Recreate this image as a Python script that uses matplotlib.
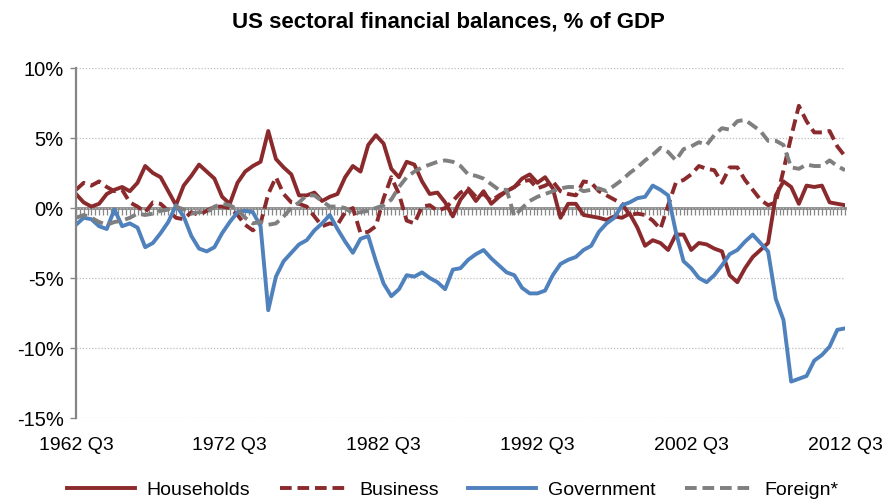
import matplotlib
matplotlib.use("Agg")
import matplotlib.pyplot as plt
import numpy as np
from matplotlib.ticker import FuncFormatter, NullFormatter

plt.rcParams['font.family'] = ['Liberation Sans', 'DejaVu Sans']

# quarter index counted from 1962 Q3, sampled every second quarter
quarters = np.arange(0, 201, 2)

households = [1.0, 0.4, 0.1, 0.3, 1.0, 1.3, 1.5, 1.2, 1.8, 3.0,
              2.5, 2.2, 1.2, 0.2, 1.6, 2.3, 3.1, 2.6, 2.1, 0.8,
              0.3, 1.8, 2.6, 3.0, 3.3, 5.5, 3.5, 2.9, 2.4, 0.9,
              0.9, 1.1, 0.5, 0.8, 1.0, 2.2, 3.0, 2.6, 4.5, 5.2,
              4.6, 2.8, 2.2, 3.3, 3.1, 1.9, 1.0, 1.1, 0.4, -0.6,
              0.6, 1.3, 0.5, 1.2, 0.3, 0.8, 1.2, 1.5, 2.1, 2.4,
              1.8, 2.2, 1.4, -0.7, 0.3, 0.3, -0.5, -0.6, -0.7, -0.85,
              -0.6, -0.7, -0.4, -1.4, -2.7, -2.3, -2.5, -3.0, -1.9, -1.9,
              -3.0, -2.5, -2.6, -2.9, -3.1, -4.8, -5.3, -4.3, -3.5, -3.0,
              -2.5, 0.9, 1.9, 1.5, 0.3, 1.6, 1.5, 1.6, 0.4, 0.3,
              0.2]

business = [1.3, 1.8, 1.6, 1.9, 1.5, 1.2, 1.3, 0.4, 0.1, -0.3,
            0.4, 0.3, -0.2, -0.7, -0.8, -0.3, -0.5, -0.2, 0.1, 0.1,
            0.0, -0.5, -1.2, -1.6, -1.1, 1.0, 2.2, 1.0, 0.4, 0.3,
            0.1, -0.6, -1.3, -1.1, -1.2, -0.3, 0.0, -1.8, -1.7, -1.3,
            0.7, 2.2, 1.0, -0.9, -1.1, 0.1, 0.2, -0.2, 0.0, 0.5,
            1.1, 1.4, 0.8, 1.0, 0.5, 0.9, 1.2, 1.5, 1.9, 2.0,
            1.4, 1.6, 1.9, 1.2, 1.0, 0.9, 1.9, 1.8, 1.2, 0.9,
            0.6, 0.3, -0.5, -0.4, -0.5, -0.9, -1.5, 0.2, 1.8, 2.0,
            2.4, 3.0, 2.8, 2.7, 1.8, 2.9, 2.9, 2.0, 1.3, 0.6,
            0.2, 0.4, 2.7, 5.1, 7.3, 6.2, 5.4, 5.4, 5.5, 4.4,
            3.7]

government = [-1.2, -0.7, -0.8, -1.3, -1.5, -0.1, -1.3, -1.1, -1.4, -2.8,
              -2.5, -1.8, -1.0, 0.2, -0.6, -2.0, -2.9, -3.1, -2.8, -1.8,
              -1.0, -0.3, -0.2, -0.3, -1.3, -7.3, -4.9, -3.8, -3.2, -2.6,
              -2.3, -1.6, -1.1, -0.5, -1.5, -2.4, -3.2, -2.2, -2.0, -3.8,
              -5.4, -6.3, -5.8, -4.8, -4.9, -4.6, -5.0, -5.3, -5.8, -4.4,
              -4.3, -3.7, -3.3, -3.0, -3.6, -4.1, -4.6, -4.8, -5.7, -6.1,
              -6.1, -5.9, -4.8, -4.0, -3.7, -3.5, -3.0, -2.7, -1.7, -1.1,
              -0.7, 0.2, 0.4, 0.7, 0.8, 1.6, 1.3, 0.9, -1.7, -3.8,
              -4.3, -5.0, -5.3, -4.8, -4.1, -3.3, -3.0, -2.4, -1.9, -2.5,
              -3.1, -6.5, -8.0, -12.4, -12.2, -12.0, -10.9, -10.5, -9.9, -8.7,
              -8.6]

foreign = [-0.7, -0.5, -0.7, -1.0, -1.2, -1.0, -0.9, -0.7, -0.4, -0.5,
           -0.4, -0.2, -0.1, 0.1, -0.1, -0.4, -0.3, -0.3, 0.1, 0.3,
           0.2, -0.1, -0.7, -1.1, -1.0, -1.2, -1.1, -0.6, 0.0, 0.4,
           0.9, 0.9, 0.5, 0.1, 0.1, 0.0, -0.4, -0.3, -0.2, 0.0,
           0.2, 0.6, 1.5, 2.2, 2.6, 2.9, 3.1, 3.3, 3.4, 3.3,
           3.0, 2.4, 2.3, 2.1, 1.7, 1.3, 1.3, -0.6, 0.0, 0.5,
           0.8, 1.0, 1.2, 1.4, 1.5, 1.5, 1.2, 1.3, 1.4, 1.2,
           1.6, 2.0, 2.5, 2.9, 3.4, 3.8, 4.3, 4.0, 3.4, 4.2,
           4.4, 4.7, 4.5, 5.2, 5.7, 5.6, 6.2, 6.3, 5.9, 5.5,
           4.8, 4.8, 4.5, 2.9, 2.8, 3.1, 3.0, 3.0, 3.4, 3.0,
           2.7]

tick_pos = [0, 40, 80, 120, 160, 200]
tick_labels = ['1962 Q3', '1972 Q3', '1982 Q3', '1992 Q3', '2002 Q3', '2012 Q3']

red = '#8B2A2C'
blue = '#4F81BD'
grey = '#7F7F7F'
axis_grey = '#868686'

fig = plt.figure(figsize=(8.83, 5.01), dpi=100)
ax = fig.add_axes([76/883, 1-418/501, (845-76)/883, (418-68)/501])

lw = 2.8
ax.plot(quarters, households, color=red, lw=lw, label='Households', solid_joinstyle='round')
ax.plot(quarters, business, color=red, lw=lw, dashes=(3, 1.5), label='Business')
ax.plot(quarters, government, color=blue, lw=lw, label='Government', solid_joinstyle='round')
ax.plot(quarters, foreign, color=grey, lw=lw, dashes=(3, 1.5), label='Foreign*')

ax.set_xlim(0, 200)
ax.set_ylim(-15, 10)
ax.set_yticks([-15, -10, -5, 0, 5, 10])
ax.yaxis.set_major_formatter(FuncFormatter(lambda v, p: f'{v:.0f}%'))
ax.yaxis.grid(True, ls=(0, (1, 1.5)), color='#bdbdbd', lw=0.9)
ax.tick_params(axis='y', length=4, color=axis_grey, width=1, pad=5, labelsize=14.5)

ax.set_xticks(tick_pos, tick_labels)
ax.tick_params(axis='x', length=0, pad=14, labelsize=14)

for s in ['top', 'right', 'bottom']:
    ax.spines[s].set_visible(False)
ax.spines['left'].set_color(axis_grey)
ax.spines['left'].set_linewidth(1.6)

# zero line with a tick on every quarter
sec = ax.secondary_xaxis(0.6)
sec.set_alignment('bottom')
sec.set_xticks(np.arange(0, 201))
sec.xaxis.set_major_formatter(NullFormatter())
sec.tick_params(direction='out', length=5, width=0.9, color=axis_grey)
sec.spines['bottom'].set_color(axis_grey)
sec.spines['bottom'].set_linewidth(2)

fig.text(448/883, 1-22/501, 'US sectoral financial balances, % of GDP',
         ha='center', va='center', fontsize=16, fontweight='bold')

ax.legend(loc='center', bbox_to_anchor=(0.49, -0.206), ncol=4, frameon=False,
          handlelength=3.5, handletextpad=0.6, columnspacing=1.5, fontsize=14)

fig.savefig('out.png', dpi=100)
